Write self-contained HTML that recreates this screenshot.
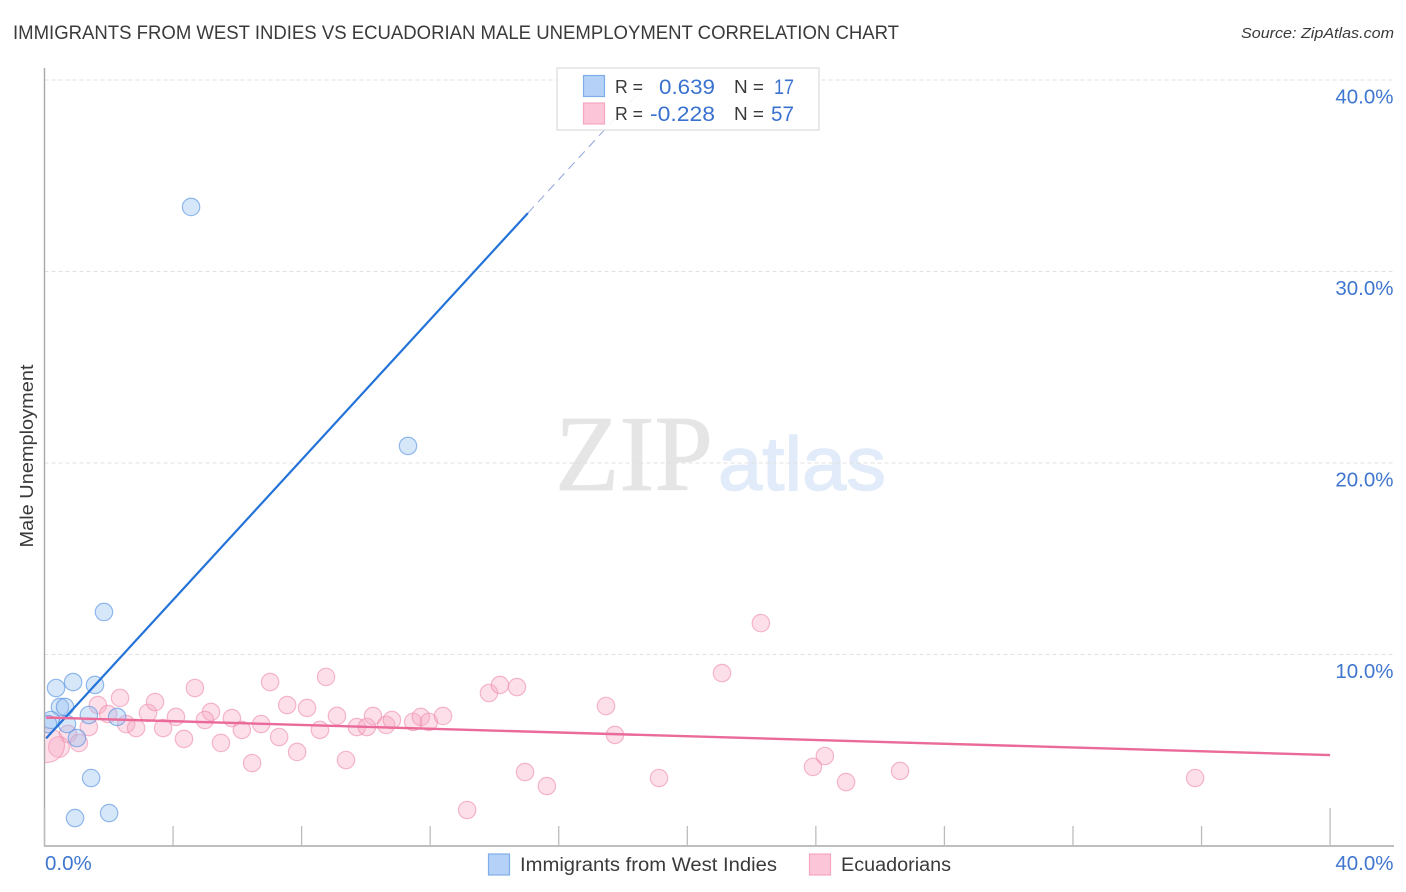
<!DOCTYPE html>
<html lang="en">
<head>
<meta charset="utf-8">
<title>Immigrants from West Indies vs Ecuadorian Male Unemployment Correlation Chart</title>
<style>
html,body{margin:0;padding:0;background:#fff;width:1406px;height:892px;overflow:hidden}
svg{display:block;font-family:"Liberation Sans",sans-serif}
</style>
</head>
<body>
<svg id="chart" width="1406" height="892" viewBox="0 0 1406 892" xmlns="http://www.w3.org/2000/svg">
  <defs><clipPath id="plot-clip"><rect x="45" y="60" width="1349" height="786"/></clipPath></defs>
  <text x="13" y="39" font-size="19" fill="#3a3a3a" textLength="886" lengthAdjust="spacingAndGlyphs">IMMIGRANTS FROM WEST INDIES VS ECUADORIAN MALE UNEMPLOYMENT CORRELATION CHART</text>
  <text x="1241" y="38" font-size="15" font-style="italic" fill="#3a3a3a" textLength="153" lengthAdjust="spacingAndGlyphs">Source: ZipAtlas.com</text>

  <g>
    <text x="555" y="490" font-family="'Liberation Serif',serif" font-size="108" fill="#e5e5e5" stroke="#e5e5e5" stroke-width="0.8" textLength="158" lengthAdjust="spacingAndGlyphs">ZIP</text>
    <text x="718" y="490" font-size="76" fill="#e1ebf9" stroke="#e1ebf9" stroke-width="1.4" textLength="168" lengthAdjust="spacingAndGlyphs">atlas</text>
  </g>

  <g id="grid"></g>
  <g id="axes"></g>
  <text transform="translate(33,456) rotate(-90)" text-anchor="middle" font-size="18" fill="#3a3a3a" textLength="183" lengthAdjust="spacingAndGlyphs">Male Unemployment</text>
  <g id="points" clip-path="url(#plot-clip)"></g>
  <g id="trends"></g>

  <g>
    <rect x="557" y="68" width="262" height="62" fill="#fff" fill-opacity="0.88" stroke="#dcdcdc" stroke-width="1.2"/>
    <rect x="583.5" y="75.5" width="21" height="21" fill="#b5d1f7" stroke="#7fadea" stroke-width="1.2"/>
    <rect x="583.5" y="103" width="21" height="21" fill="#fcc5d8" stroke="#f5a6c0" stroke-width="1.2"/>
    <text x="615" y="93" font-size="18" fill="#3a3a3a" textLength="28" lengthAdjust="spacingAndGlyphs">R =</text>
    <text x="659" y="94" font-size="21" fill="#3a72cf" textLength="56" lengthAdjust="spacingAndGlyphs">0.639</text>
    <text x="734" y="93" font-size="18" fill="#3a3a3a" textLength="30" lengthAdjust="spacingAndGlyphs">N =</text>
    <text x="774" y="94" font-size="21" fill="#3a72cf" textLength="20" lengthAdjust="spacingAndGlyphs">17</text>
    <text x="615" y="120" font-size="18" fill="#3a3a3a" textLength="28" lengthAdjust="spacingAndGlyphs">R =</text>
    <text x="650" y="121" font-size="21" fill="#3a72cf" textLength="65" lengthAdjust="spacingAndGlyphs">-0.228</text>
    <text x="734" y="120" font-size="18" fill="#3a3a3a" textLength="30" lengthAdjust="spacingAndGlyphs">N =</text>
    <text x="771" y="121" font-size="21" fill="#3a72cf" textLength="23" lengthAdjust="spacingAndGlyphs">57</text>
  </g>

  <g>
    <rect x="488.5" y="854" width="21" height="21" fill="#b5d1f7" stroke="#7fadea" stroke-width="1.2"/>
    <text x="520" y="871" font-size="19" fill="#3a3a3a" textLength="257" lengthAdjust="spacingAndGlyphs">Immigrants from West Indies</text>
    <rect x="809.5" y="854" width="21" height="21" fill="#fcc5d8" stroke="#f5a6c0" stroke-width="1.2"/>
    <text x="841" y="871" font-size="19" fill="#3a3a3a" textLength="110" lengthAdjust="spacingAndGlyphs">Ecuadorians</text>
  </g>
</svg>
<script>
const yTickValues = [10, 20, 30, 40];
const yTickLabels = ['10.0%', '20.0%', '30.0%', '40.0%'];
const xMinorTicks = [4, 8, 12, 16, 20, 24, 28, 32, 36];
const xEndTicks = [0, 40];
const xEndLabels = ['0.0%', '40.0%'];

const westIndiesX = [4.56,11.31,1.85,0.36,0.89,1.57,0.48,0.64,0.20,0.11,1.38,2.26,0.70,1.01,1.45,2.01,0.95];
const westIndiesY = [33.37,20.89,12.22,8.25,8.56,8.41,7.26,7.26,6.58,6.37,6.84,6.74,6.37,5.64,3.55,1.72,1.46];
const westIndiesSize = [1,1,1,1,1,1,1,1,1,1,1,1,1,1,1,1,1];

const ecuadorianX = [2.35,1.66,1.98,1.38,2.54,2.85,3.22,3.44,4.09,3.69,4.34,4.68,5.18,4.99,5.83,6.14,5.49,6.74,7.02,7.55,7.30,6.46,7.86,0.73,1.07,0.45,0.08,8.17,8.76,8.57,9.10,9.38,9.72,10.03,10.22,10.63,10.81,11.47,11.71,11.96,12.40,13.15,13.83,14.17,14.70,14.95,15.63,17.47,17.75,19.12,21.08,22.29,23.91,24.28,24.94,26.62,35.80];
const ecuadorianY = [7.73,7.36,6.89,6.21,6.37,6.16,6.95,7.52,6.74,6.16,5.59,8.25,7.00,6.58,6.68,6.06,5.38,6.37,8.56,7.36,5.69,4.33,4.91,5.85,5.38,5.17,5.27,7.21,8.83,6.06,6.79,4.49,6.21,6.21,6.79,6.32,6.58,6.48,6.74,6.48,6.79,1.88,7.99,8.41,8.30,3.86,3.13,7.31,5.80,3.55,9.03,11.64,4.13,4.70,3.34,3.92,3.55];
const ecuadorianSize = [1,1,1,1,1,1,1,1,1,1,1,1,1,1,1,1,1,1,1,1,1,1,1,1,1,1.2,2,1,1,1,1,1,1,1,1,1,1,1,1,1,1,1,1,1,1,1,1,1,1,1,1,1,1,1,1,1,1];

const westIndiesTrendX = [0.05, 15.04];
const westIndiesTrendY = [5.62, 33.05];
const westIndiesProjectionX = [15.04, 18.85];
const westIndiesProjectionY = [33.05, 40];
const ecuadorianTrendX = [0.05, 40];
const ecuadorianTrendY = [6.71, 4.75];

const NS = 'http://www.w3.org/2000/svg';
const xScale = v => 44.5 + v * 32.14;
const yScale = v => 846 - v * 19.15;

function make(tag, attrs, parent) {
  const el = document.createElementNS(NS, tag);
  for (const k in attrs) el.setAttribute(k, attrs[k]);
  parent.appendChild(el);
  return el;
}

const grid = document.getElementById('grid');
const axes = document.getElementById('axes');
const points = document.getElementById('points');
const trends = document.getElementById('trends');

yTickValues.forEach((v, i) => {
  const line = make('line', {x1: 44.5, x2: 1394, y1: yScale(v), y2: yScale(v), stroke: '#e0e0e0', 'stroke-width': 1, 'stroke-dasharray': '4 3'}, grid);
  
  
  const label = make('text', {x: 1393.5, y: yScale(v) + 23.5, 'text-anchor': 'end', 'font-size': 20.5, fill: '#3f76d0'}, axes);
  label.textContent = yTickLabels[i];
  
  
});

const yAxis = make('line', {x1: 44.5, x2: 44.5, y1: 68, y2: 846.5, stroke: '#a8a8a8', 'stroke-width': 1.4}, axes);


const xAxis = make('line', {x1: 44, x2: 1394, y1: 846, y2: 846, stroke: '#a8a8a8', 'stroke-width': 1.4}, axes);



xMinorTicks.forEach(v => {
  const tick = make('line', {x1: xScale(v), x2: xScale(v), y1: 826, y2: 846, stroke: '#bcbcbc', 'stroke-width': 1.3}, axes);
  
  
});

xEndTicks.forEach((v, i) => {
  const tick = make('line', {x1: xScale(v), x2: xScale(v), y1: 808, y2: 846, stroke: '#bcbcbc', 'stroke-width': 1.3}, axes);
  
  
  const label = make('text', {x: i === 0 ? 45 : 1393.5, y: 870, 'text-anchor': i === 0 ? 'start' : 'end', 'font-size': 20.5, fill: '#3f76d0'}, axes);
  label.textContent = xEndLabels[i];
  
  
});

ecuadorianX.forEach((v, i) => {
  const dot = make('circle', {cx: xScale(v), cy: yScale(ecuadorianY[i]), r: 8.7 * ecuadorianSize[i], fill: 'rgba(248,165,193,0.36)', stroke: 'rgba(238,140,172,0.6)', 'stroke-width': 1.2}, points);
  
  
});

westIndiesX.forEach((v, i) => {
  const dot = make('circle', {cx: xScale(v), cy: yScale(westIndiesY[i]), r: 8.7 * westIndiesSize[i], fill: 'rgba(150,193,243,0.38)', stroke: 'rgba(85,145,225,0.62)', 'stroke-width': 1.2}, points);
  
  
});

const blueLine = make('line', {x1: xScale(westIndiesTrendX[0]), y1: yScale(westIndiesTrendY[0]), x2: xScale(westIndiesTrendX[1]), y2: yScale(westIndiesTrendY[1]), stroke: '#2473d8', 'stroke-width': 2.2}, trends);



const blueDash = make('line', {x1: xScale(westIndiesProjectionX[0]), y1: yScale(westIndiesProjectionY[0]), x2: xScale(westIndiesProjectionX[1]), y2: yScale(westIndiesProjectionY[1]), stroke: '#8fa4dc', 'stroke-width': 1, 'stroke-dasharray': '9 6'}, trends);



const pinkLine = make('line', {x1: xScale(ecuadorianTrendX[0]), y1: yScale(ecuadorianTrendY[0]), x2: xScale(ecuadorianTrendX[1]), y2: yScale(ecuadorianTrendY[1]), stroke: '#ea6a99', 'stroke-width': 2.4}, trends);


</script>
</body>
</html>
